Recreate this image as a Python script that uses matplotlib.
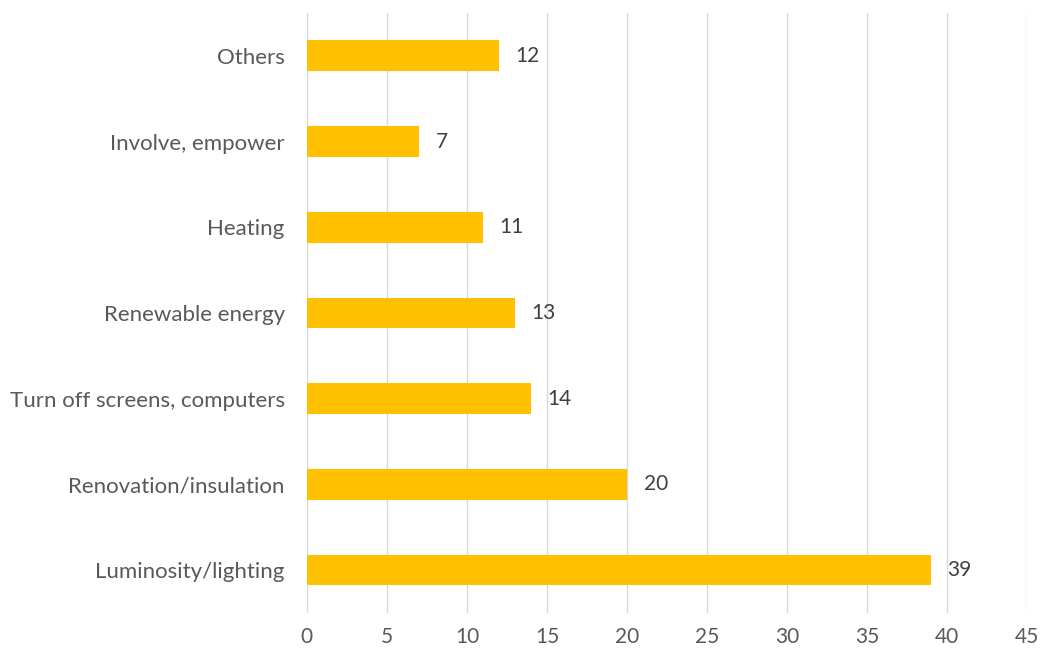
import matplotlib.pyplot as plt

# Energy-saving suggestions, counts per category (bottom to top)
categories = ['Luminosity/lighting', 'Renovation/insulation', 'Turn off screens, computers',
              'Renewable energy', 'Heating', 'Involve, empower', 'Others']
counts = [39, 20, 14, 13, 11, 7, 12]
xticks = list(range(0, 50, 5))

plt.rcParams['font.family'] = ['Lato', 'DejaVu Sans']
text_color = '#595959'

fig = plt.figure(figsize=(10.44, 6.52), dpi=100)
ax = fig.add_axes([0.294, 0.06, 0.6897, 0.92])

y = range(len(categories))
ax.barh(y, counts, height=0.36, color='#FFC000', zorder=3)

# value labels just past the end of each bar
for yi, v in zip(y, counts):
    ax.annotate(str(v), (v, yi), xytext=(12, 0), textcoords='offset points',
                va='center', ha='left', fontsize=15, color='#404040')

ax.set_xlim(0, 45)
ax.set_ylim(-0.5, len(categories) - 0.5)
ax.set_xticks(xticks)
ax.set_yticks(list(y))
ax.set_yticklabels(categories)
ax.tick_params(axis='both', length=0, labelsize=15, labelcolor=text_color)
ax.tick_params(axis='y', pad=16, labelsize=16)
ax.tick_params(axis='x', pad=10)

ax.grid(axis='x', color='#D9D9D9', linewidth=1, zorder=0)
for s in ax.spines.values():
    s.set_visible(False)

plt.savefig('out.png', dpi=100)
